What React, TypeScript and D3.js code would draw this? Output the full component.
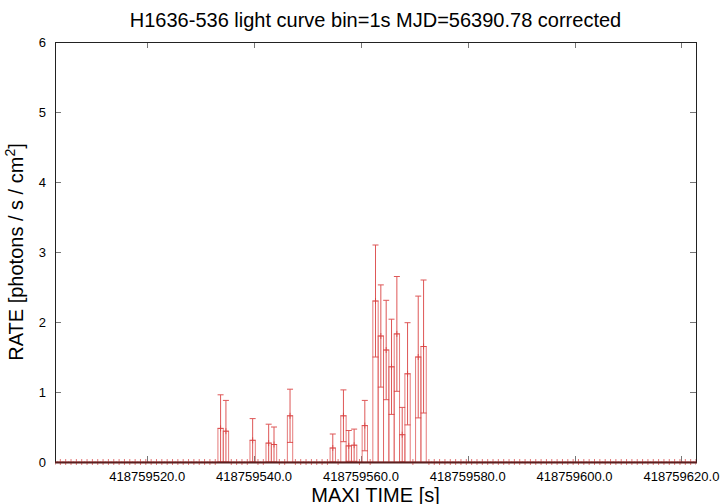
import React from 'react'
import * as d3 from 'd3'

// 1 s bins, MAXI time of the first bin centre and number of bins
const firstBin = 418759502.73
const binCount = 121

// bins with counts: bin index, rate, 1-sigma error
const hitBins = [31, 32, 37, 40, 41, 44, 52, 54, 55, 56, 58, 60, 61, 62, 63, 64, 65, 66, 68, 69]
const hitRates = [0.48, 0.44, 0.31, 0.27, 0.25, 0.66, 0.2, 0.66, 0.23, 0.24, 0.52, 2.3, 1.8, 1.6, 1.36, 1.83, 0.39, 1.26, 1.5, 1.65]
const hitErrors = [0.48, 0.44, 0.31, 0.27, 0.25, 0.38, 0.2, 0.37, 0.22, 0.23, 0.36, 0.8, 0.73, 0.71, 0.68, 0.82, 0.39, 0.73, 0.87, 0.95]

const xTicks = [418759520, 418759540, 418759560, 418759580, 418759600, 418759620]
const yTicks = [0, 1, 2, 3, 4, 5, 6]

const W = 720
const H = 504
const M = { left: 55, right: 696, top: 42, bottom: 462 }
const FONT = '"Liberation Sans", Arial, Helvetica, sans-serif'

export default function App() {
  const x = d3.scaleLinear().domain([firstBin, firstBin + binCount - 1]).range([M.left, M.right])
  const y = d3.scaleLinear().domain([0, 6]).range([M.bottom, M.top])
  const fmt = d3.format('.1f')

  const bins = d3.range(binCount).map(i => {
    const k = hitBins.indexOf(i)
    return {
      t: firstBin + i,
      rate: k >= 0 ? hitRates[k] : 0,
      err: k >= 0 ? hitErrors[k] : 0
    }
  })

  const lineColor = '#d93b3b'
  const boxColor = '#e06464'

  return (
    <div style={{ position: 'fixed', left: 0, top: 0 }}>
      <svg width={W} height={H} style={{ display: 'block', background: '#fff' }}>
        <defs>
          <clipPath id="plot">
            <rect x={M.left} y={M.top - 4} width={M.right - M.left} height={M.bottom - M.top + 8} />
          </clipPath>
        </defs>

        {/* title */}
        <text x={(M.left + M.right) / 2} y={27} textAnchor="middle" fontFamily={FONT} fontSize={20}>
          H1636-536 light curve bin=1s MJD=56390.78 corrected
        </text>

        {/* ticks */}
        {yTicks.map(v => (
          <g key={'y' + v}>
            <line x1={M.left} x2={M.left + 6} y1={Math.round(y(v)) + 0.5} y2={Math.round(y(v)) + 0.5} stroke="#777" />
            <line x1={M.right - 6} x2={M.right} y1={Math.round(y(v)) + 0.5} y2={Math.round(y(v)) + 0.5} stroke="#777" />
            <text x={46} y={y(v) + 5} textAnchor="end" fontFamily={FONT} fontSize={13}>{v}</text>
          </g>
        ))}
        {xTicks.map(v => (
          <g key={'x' + v}>
            <line x1={Math.round(x(v)) + 0.5} x2={Math.round(x(v)) + 0.5} y1={M.bottom} y2={M.bottom - 6} stroke="#777" />
            <line x1={Math.round(x(v)) + 0.5} x2={Math.round(x(v)) + 0.5} y1={M.top} y2={M.top + 6} stroke="#777" />
            <text x={x(v)} y={481} textAnchor="middle" fontFamily={FONT} fontSize={13}>{fmt(v)}</text>
          </g>
        ))}

        {/* data */}
        <g clipPath="url(#plot)" fill="none">
          {bins.filter(d => d.rate > 0).map(d => (
            <rect key={'b' + d.t} x={x(d.t - 0.5)} y={y(d.rate)} width={x(d.t + 0.5) - x(d.t - 0.5)}
              height={y(0) - y(d.rate)} stroke={boxColor} strokeWidth={1} opacity={0.85} />
          ))}
          {bins.filter(d => d.err > 0).map(d => {
            const cx = x(d.t)
            return (
              <g key={'e' + d.t} stroke={lineColor} strokeWidth={1} opacity={0.85}>
                <line x1={cx} x2={cx} y1={y(d.rate - d.err)} y2={y(d.rate + d.err)} />
                <line x1={cx - 3} x2={cx + 3} y1={y(d.rate + d.err)} y2={y(d.rate + d.err)} />
                <line x1={cx - 3} x2={cx + 3} y1={y(d.rate - d.err)} y2={y(d.rate - d.err)} />
              </g>
            )
          })}
          {bins.map(d => {
            const cx = x(d.t)
            const cy = y(d.rate)
            return (
              <g key={'p' + d.t} stroke={lineColor} strokeWidth={1} opacity={0.7}>
                <line x1={cx} x2={cx} y1={cy - 3} y2={cy + 3} />
                <line x1={cx - 3} x2={cx + 3} y1={cy} y2={cy} />
              </g>
            )
          })}
        </g>

        {/* frame */}
        <rect x={M.left + 0.5} y={M.top + 0.5} width={M.right - M.left} height={M.bottom - M.top}
          fill="none" stroke="#222" strokeWidth={1} />
        <line x1={M.left} x2={M.right + 1} y1={M.bottom + 0.5} y2={M.bottom + 0.5} stroke="#5a1f1f" strokeWidth={2} />

        {/* axis labels */}
        <text x={(M.left + M.right) / 2} y={502} textAnchor="middle" fontFamily={FONT} fontSize={20}>
          MAXI TIME [s]
        </text>
        <text transform={`translate(23, ${(M.top + M.bottom) / 2}) rotate(-90)`} textAnchor="middle" fontFamily={FONT} fontSize={20}>
          RATE [photons / s / cm<tspan dy={-8} fontSize={14}>2</tspan><tspan dy={8}>]</tspan>
        </text>
      </svg>
    </div>
  )
}
